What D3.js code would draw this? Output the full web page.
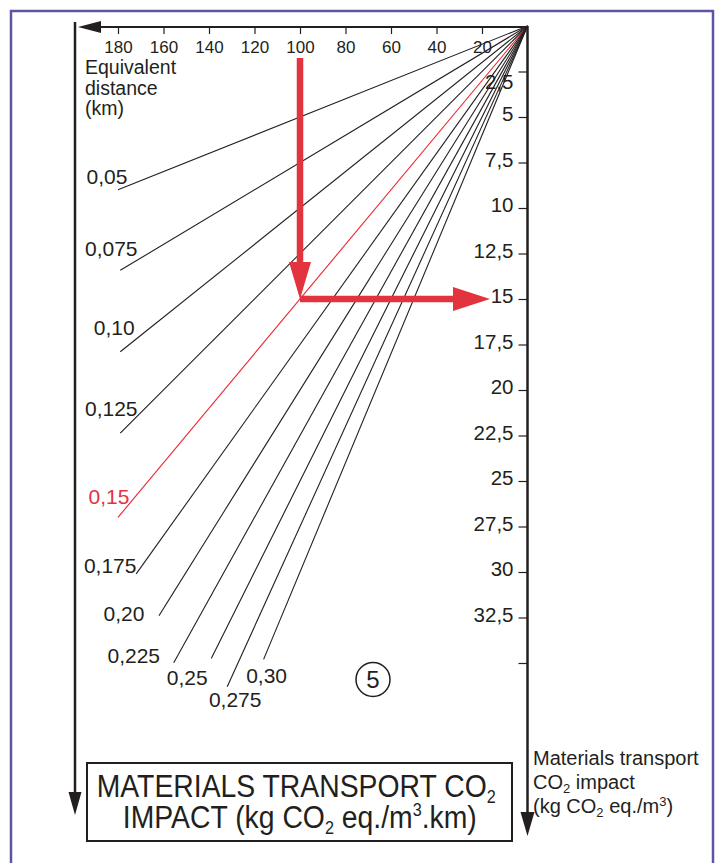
<!DOCTYPE html>
<html>
<head>
<meta charset="utf-8">
<script src="https://cdn.jsdelivr.net/npm/d3@7"></script>
<style>
body { margin: 0; background: #fff; }
svg text { font-family: "Liberation Sans", Arial, Helvetica, sans-serif; fill: #231f20; }
</style>
</head>
<body>
<svg id="chart" width="716" height="863"></svg>
<script>
// equivalent distance axis (km), top
const distanceTicks = [20, 40, 60, 80, 100, 120, 140, 160, 180];
// CO2 impact axis (kg CO2 eq./m3), right
const impactTicks = [2.5, 5, 7.5, 10, 12.5, 15, 17.5, 20, 22.5, 25, 27.5, 30, 32.5, 35];
const impactLabels = ["2,5", "5", "7,5", "10", "12,5", "15", "17,5", "20", "22,5", "25", "27,5", "30", "32,5", ""];
// fan lines: kg CO2 eq./m3.km
const factors = [0.05, 0.075, 0.10, 0.125, 0.15, 0.175, 0.20, 0.225, 0.25, 0.275, 0.30];
const factorLabels = ["0,05", "0,075", "0,10", "0,125", "0,15", "0,175", "0,20", "0,225", "0,25", "0,275", "0,30"];
const lineEndKm = [180, 179, 179, 179, 180, 172, 162, 155.5, 139, 132, 116];
// worked example
const exampleDistance = 100;
const exampleFactor = 0.15;

const ink = "#231f20";
const red = "#e2343f";

const svg = d3.select("#chart");

const x = d3.scaleLinear().domain([0, 200]).range([527.5, 72.5]);
const y = d3.scaleLinear().domain([0, 35]).range([26, 26 + 35 * 18.2]);

// frame
svg.append("rect")
    .attr("x", 11).attr("y", 11)
    .attr("width", 702).attr("height", 900)
    .attr("fill", "none")
    .attr("stroke", "#5a56a4")
    .attr("stroke-width", 2.5);

// top axis ticks + labels
const xaxis = d3.axisBottom(x)
    .tickValues(distanceTicks)
    .tickSize(7)
    .tickPadding(7)
    .tickFormat(d3.format("d"));
const xg = svg.append("g")
    .attr("transform", `translate(0, ${y(0) + 1})`)
    .call(xaxis)
    .attr("font-size", 17)
    .attr("font-family", null);
xg.select(".domain").remove();
xg.selectAll("line").attr("stroke", ink).attr("stroke-width", 1.2);

// right axis ticks + labels
const yaxis = d3.axisLeft(y)
    .tickValues(impactTicks)
    .tickSize(9)
    .tickPadding(5)
    .tickFormat((d, i) => impactLabels[i]);
const yg = svg.append("g")
    .attr("transform", `translate(${x(0)}, 0)`)
    .call(yaxis)
    .attr("font-size", 20.5)
    .attr("font-family", null);
yg.select(".domain").remove();
yg.selectAll("line").attr("stroke", ink).attr("stroke-width", 1.2);
yg.selectAll("text").attr("dy", d => d === 2.5 ? "0.85em" : "0.17em");

// "Equivalent distance (km)"
svg.append("text")
    .attr("font-size", 19.5)
    .selectAll("tspan")
    .data(["Equivalent", "distance", "(km)"])
    .join("tspan")
    .attr("x", 85)
    .attr("y", (d, i) => 74 + i * 20.5)
    .text(d => d);

// factor labels, nudged off the line ends
const labelNudge = [[-11, -6], [-9, -14], [-6, -17], [-9, -17], [-9, -13], [-26, -1],
                    [-35, 5], [-40, 0], [-24, 27], [8, 20], [3, 24]];
svg.append("g")
    .attr("font-size", 21)
    .attr("text-anchor", "middle")
    .selectAll("text")
    .data(factors)
    .join("text")
    .attr("x", (f, i) => x(lineEndKm[i]) + labelNudge[i][0])
    .attr("y", (f, i) => y(f * lineEndKm[i]) + labelNudge[i][1])
    .style("fill", f => f === exampleFactor ? red : ink)
    .text((f, i) => factorLabels[i]);

// fan lines
svg.append("g")
    .selectAll("line")
    .data(factors)
    .join("line")
    .attr("x1", x(0)).attr("y1", y(0))
    .attr("x2", (f, i) => x(lineEndKm[i]))
    .attr("y2", (f, i) => y(f * lineEndKm[i]))
    .attr("stroke", f => f === exampleFactor ? "#ea2630" : ink)
    .attr("stroke-width", 1.1);

// axis lines with arrows
const axisY = y(0) + 1;
svg.append("line")
    .attr("x1", x(0)).attr("y1", axisY).attr("x2", 95).attr("y2", axisY)
    .attr("stroke", ink).attr("stroke-width", 2);
svg.append("path")
    .attr("d", `M78,${axisY} L101,${axisY - 6} L101,${axisY + 6} Z`)
    .attr("fill", ink);

svg.append("line")
    .attr("x1", 75).attr("y1", 22).attr("x2", 75).attr("y2", 800)
    .attr("stroke", ink).attr("stroke-width", 2.5);
svg.append("path")
    .attr("d", "M75,815 L68.5,792 L81.5,792 Z")
    .attr("fill", ink);

svg.append("line")
    .attr("x1", x(0)).attr("y1", y(0)).attr("x2", x(0)).attr("y2", 820)
    .attr("stroke", ink).attr("stroke-width", 2.5);
svg.append("path")
    .attr("d", `M${x(0)},836 L${x(0) - 7},812 L${x(0) + 7},812 Z`)
    .attr("fill", ink);

// worked example arrows
const ex = x(exampleDistance);
const ey = y(exampleDistance * exampleFactor);
svg.append("line")
    .attr("x1", ex).attr("y1", 58).attr("x2", ex).attr("y2", ey - 34)
    .attr("stroke", red).attr("stroke-width", 6.5);
svg.append("path")
    .attr("d", `M${ex},${ey} L${ex - 11},${ey - 37} L${ex + 11},${ey - 37} Z`)
    .attr("fill", red);
svg.append("line")
    .attr("x1", ex).attr("y1", ey).attr("x2", 456).attr("y2", ey)
    .attr("stroke", red).attr("stroke-width", 6.5);
svg.append("path")
    .attr("d", `M490,${ey} L453,${ey - 12} L453,${ey + 12} Z`)
    .attr("fill", red);

// circled step number
svg.append("circle")
    .attr("cx", 373).attr("cy", 679.5).attr("r", 17)
    .attr("fill", "none").attr("stroke", ink).attr("stroke-width", 1.5);
svg.append("text")
    .attr("x", 373).attr("y", 688)
    .attr("text-anchor", "middle")
    .attr("font-size", 24)
    .text("5");

// title box
svg.append("rect")
    .attr("x", 87).attr("y", 763)
    .attr("width", 425).attr("height", 78)
    .attr("fill", "#fff")
    .attr("stroke", ink).attr("stroke-width", 2);

const title = svg.append("g")
    .attr("transform", "translate(298,0) scale(0.9,1) translate(-298,0)")
    .attr("font-size", 31.5)
    .attr("text-anchor", "middle");
const t1 = title.append("text").attr("x", 296).attr("y", 797);
t1.append("tspan").text("MATERIALS TRANSPORT CO");
t1.append("tspan").attr("font-size", 18).attr("dy", 6).text("2");
const t2 = title.append("text").attr("x", 300).attr("y", 828);
t2.append("tspan").text("IMPACT (kg CO");
t2.append("tspan").attr("font-size", 18).attr("dy", 6).text("2");
t2.append("tspan").attr("dy", -6).text(" eq./m");
t2.append("tspan").attr("font-size", 18).attr("dy", -12).text("3");
t2.append("tspan").attr("dy", 12).text(".km)");

// right-side axis title
const side = svg.append("g").attr("font-size", 20);
side.append("text").attr("x", 533).attr("y", 765).text("Materials transport");
const s2 = side.append("text").attr("x", 533).attr("y", 789);
s2.append("tspan").text("CO");
s2.append("tspan").attr("font-size", 13).attr("dy", 4).text("2");
s2.append("tspan").attr("dy", -4).text(" impact");
const s3 = side.append("text").attr("x", 533).attr("y", 813);
s3.append("tspan").text("(kg CO");
s3.append("tspan").attr("font-size", 13).attr("dy", 4).text("2");
s3.append("tspan").attr("dy", -4).text(" eq./m");
s3.append("tspan").attr("font-size", 13).attr("dy", -7).text("3");
s3.append("tspan").attr("dy", 7).text(")");
</script>
</body>
</html>
